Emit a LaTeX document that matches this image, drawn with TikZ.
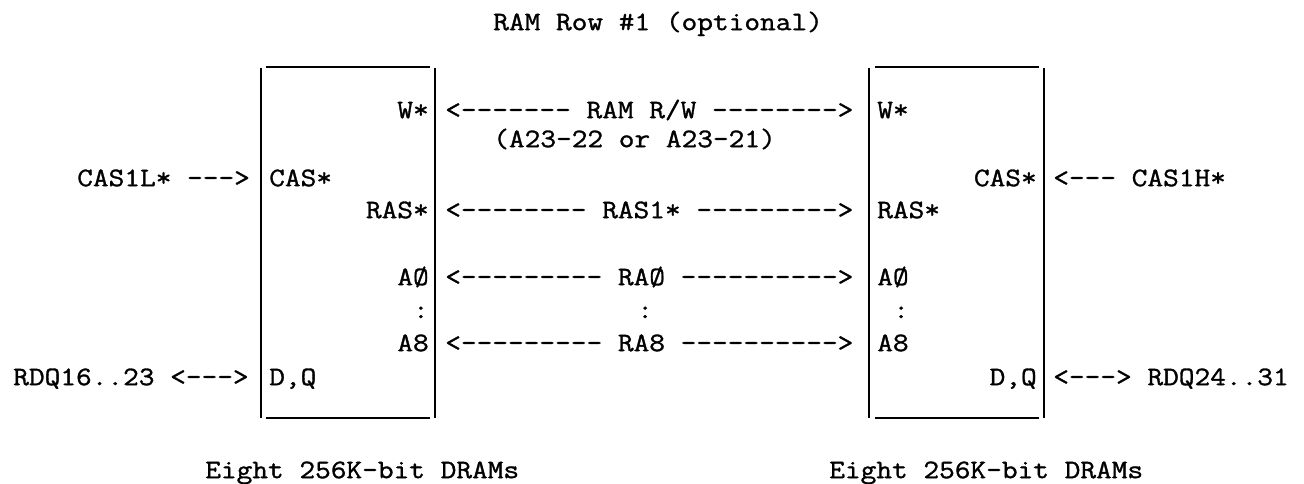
\documentclass[tikz,border=0pt]{standalone}
\usepackage{fontspec}
\setmonofont{Latin Modern Mono}[FakeStretch=1.143, FakeBold=1.2]
\usetikzlibrary{calc}

\begin{document}
\begin{tikzpicture}[
    x=0.75pt, y=-0.75pt,
    sig/.style={font=\ttfamily\fontsize{20}{24}\selectfont, inner sep=0pt,
                text height=12.2pt, text depth=0pt},
    lft/.style={sig, anchor=west},
    rgt/.style={sig, anchor=east},
    side/.style={line width=1.1pt},
    rule/.style={line width=1.8pt}
    ]
    \useasboundingbox (0,0) rectangle (1304,484);

    % title
    \node[lft] (title) at (493,22){RAM Row \#1 (optional)};

    % left bank of DRAMs
    \coordinate (lnw) at (261,68);
    \coordinate (lne) at (435,68);
    \coordinate (lsw) at (261,418);
    \coordinate (lse) at (435,418);
    \draw[side] (lnw) to (lsw);
    \draw[side] (lne) to (lse);
    \draw[rule] ($(lnw) + (5,-1)$) to ($(lne) + (-5,-1)$);
    \draw[rule] ($(lsw) + (5,0)$) to ($(lse) + (-5,0)$);

    % right bank of DRAMs
    \coordinate (rnw) at (869,68);
    \coordinate (rne) at (1044,68);
    \coordinate (rsw) at (869,418);
    \coordinate (rse) at (1044,418);
    \draw[side] (rnw) to (rsw);
    \draw[side] (rne) to (rse);
    \draw[rule] ($(rnw) + (6,-1)$) to ($(rne) + (-5,-1)$);
    \draw[rule] ($(rsw) + (6,0)$) to ($(rse) + (-5,0)$);

    % pins of the left bank
    \node[rgt] (lw) at (429,110){W*};
    \node[lft] (lcas) at (269,178){CAS*};
    \node[rgt] (lras) at (429,210){RAS*};
    \node[rgt] (la0) at (429,277){AØ};
    \node[rgt] (ldots) at (429,310){:};
    \node[rgt] (la8) at (429,343){A8};
    \node[lft] (ldq) at (269,377){D,Q};

    % pins of the right bank
    \node[lft] (rw) at (877,110){W*};
    \node[rgt] (rcas) at (1037,178){CAS*};
    \node[lft] (rras) at (877,210){RAS*};
    \node[lft] (ra0) at (877,277){AØ};
    \node[lft] (rdots) at (893,310){:};
    \node[lft] (ra8) at (877,343){A8};
    \node[rgt] (rdq) at (1037,377){D,Q};

    % shared signals
    \node[lft] (ramrw) at (445,110){<------- RAM R/W -------->};
    \node[lft] (rwsel) at (493,139){(A23-22 or A23-21)};
    \node[lft] (ras1) at (445,210){<-------- RAS1* --------->};
    \node[lft] (rad0) at (445,277){<--------- RAØ ---------->};
    \node[lft] (radots) at (637,310){:};
    \node[lft] (rad8) at (445,343){<--------- RA8 ---------->};

    % outside signals
    \node[lft] (casl) at (77,178){CAS1L* --->};
    \node[lft] (cash) at (1053,178){<--- CAS1H*};
    \node[lft] (rdql) at (13,377){RDQ16..23 <--->};
    \node[lft] (rdqh) at (1053,377){<---> RDQ24..31};

    % captions
    \node[lft] (lcap) at (205,470){Eight 256K-bit DRAMs};
    \node[lft] (rcap) at (829,470){Eight 256K-bit DRAMs};
\end{tikzpicture}
\end{document}
